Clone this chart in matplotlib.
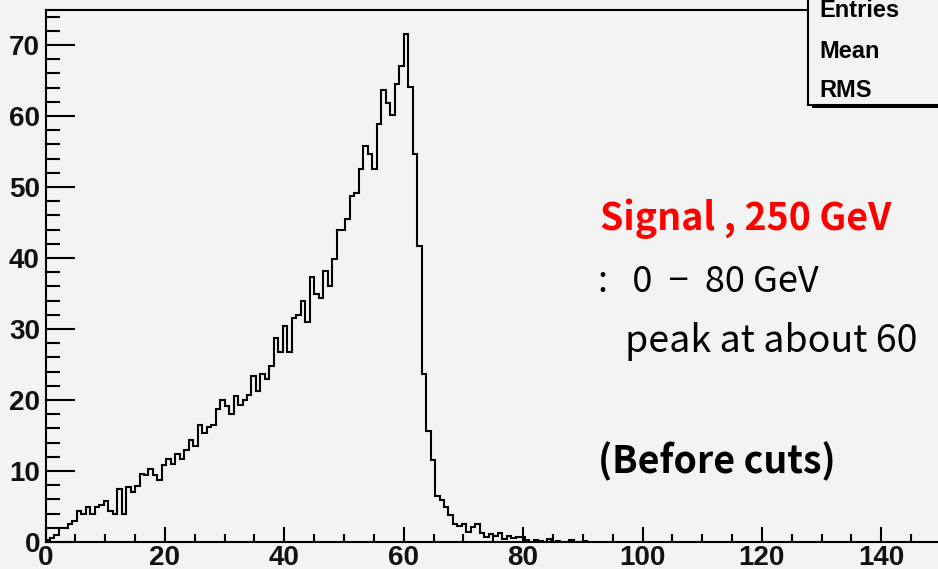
import numpy as np
import matplotlib
matplotlib.use("Agg")
import matplotlib.pyplot as plt
from matplotlib.patches import Rectangle
from matplotlib.ticker import MultipleLocator

W, H = 938, 569
BG = "#f3f3f3"

# missing-mass style spectrum, 0.75 GeV bins starting at 0
BIN_WIDTH = 0.75
counts = [
    0.25, 0.6, 1.0, 2.0, 2.0, 2.5, 3.0, 4.4, 4.0, 5.0,
    4.0, 5.0, 5.2, 5.8, 4.4, 4.0, 7.4, 4.0, 7.7, 7.1,
    7.9, 9.6, 9.4, 10.3, 9.4, 8.8, 10.8, 11.7, 11.0, 12.4,
    11.7, 13.0, 14.4, 13.5, 16.5, 15.3, 16.2, 16.5, 18.7, 20.0,
    19.2, 18.0, 20.5, 19.3, 20.0, 20.7, 23.4, 21.2, 23.7, 23.0,
    24.8, 28.7, 26.8, 30.4, 26.8, 31.6, 32.0, 34.0, 31.0, 37.3,
    34.9, 34.4, 38.2, 36.1, 39.9, 44.0, 44.0, 45.5, 48.7, 49.1,
    52.6, 55.8, 54.7, 52.5, 58.9, 63.6, 61.8, 60.2, 64.5, 67.1,
    71.5, 64.1, 54.7, 41.7, 23.7, 15.6, 11.5, 6.5, 5.9, 5.0,
    3.8, 2.6, 2.25, 2.6, 1.45, 2.1, 2.6, 1.3, 0.75, 1.1,
    0.9, 1.2, 0.4, 0.9, 0.6, 0.7, 0.7, 0.3, 0.0, 0.3,
    0.2, 0.0, 0.4, 0.0, 0.2, 0.0, 0.0, 0.3, 0.0, 0.0, 0.2,
]
x_range = (0, 150)
y_range = (0, 75)

stats_labels = ["Entries", "Mean", "RMS"]
notes = [
    ("Signal , 250 GeV", "red", "bold"),
    (":   0  \u2212  80 GeV", "black", "normal"),
    ("peak at about 60", "black", "normal"),
    ("(Before cuts)", "black", "bold"),
]

TICK_FONT = dict(family="Liberation Sans", weight="bold", size=20)
NOTE_FONT = ["Noto Sans CJK JP", "DejaVu Sans"]


def px(x, y):
    """pixel position (from top-left) -> figure fraction"""
    return x / W, 1 - y / H


def main():
    fig = plt.figure(figsize=(W / 100, H / 100), dpi=100, facecolor=BG)
    left, bottom = px(45.5, 542)
    right, top = px(941, 9.5)
    ax = fig.add_axes([left, bottom, right - left, top - bottom], facecolor=BG)

    edges = np.arange(len(counts) + 1) * BIN_WIDTH
    ax.stairs(counts, edges, baseline=0, color="black", lw=1.5)

    ax.set_xlim(*x_range)
    ax.set_ylim(*y_range)
    ax.xaxis.set_major_locator(MultipleLocator(20))
    ax.xaxis.set_minor_locator(MultipleLocator(5))
    ax.yaxis.set_major_locator(MultipleLocator(10))
    ax.yaxis.set_minor_locator(MultipleLocator(2))
    ax.tick_params(axis="both", which="both", direction="in", width=1.5,
                   top=False, right=False, colors="black")
    ax.tick_params(axis="y", which="major", length=21, pad=4)
    ax.tick_params(axis="y", which="minor", length=10)
    ax.tick_params(axis="x", which="major", length=11, pad=2)
    ax.tick_params(axis="x", which="minor", length=6)
    for lab in ax.get_xticklabels() + ax.get_yticklabels():
        lab.set_fontfamily(TICK_FONT["family"])
        lab.set_fontweight(TICK_FONT["weight"])
        lab.set_fontsize(TICK_FONT["size"])
        lab.set_color("#111111")
    for s in ax.spines.values():
        s.set_linewidth(1.5)

    # stats box in the top-right corner, with its drop shadow
    bx, by = px(808, 105)
    sx, sy = px(811.5, 108)
    fig.patches.append(Rectangle((sx, sy), 0.3, 0.3, transform=fig.transFigure,
                                 facecolor="black", edgecolor="none", zorder=5))
    fig.patches.append(Rectangle((bx, by), 0.3, 0.3, transform=fig.transFigure,
                                 facecolor=BG, edgecolor="black", lw=1.5, zorder=6))
    for lab, base in zip(stats_labels, [17, 58, 97]):
        fig.text(*px(819, base), lab, va="baseline", ha="left", zorder=7,
                 family="Liberation Sans", weight="bold", size=17)

    # annotations
    spots = [(600, 230, 27), (598, 292, 26), (625, 352, 27), (598, 473, 27)]
    for (txt, col, wt), (x, y, fs) in zip(notes, spots):
        fig.text(*px(x, y), txt, va="baseline", ha="left", color=col,
                 weight=wt, size=fs, family=NOTE_FONT)

    fig.savefig("out.png", dpi=100, facecolor=BG)


if __name__ == "__main__":
    main()
